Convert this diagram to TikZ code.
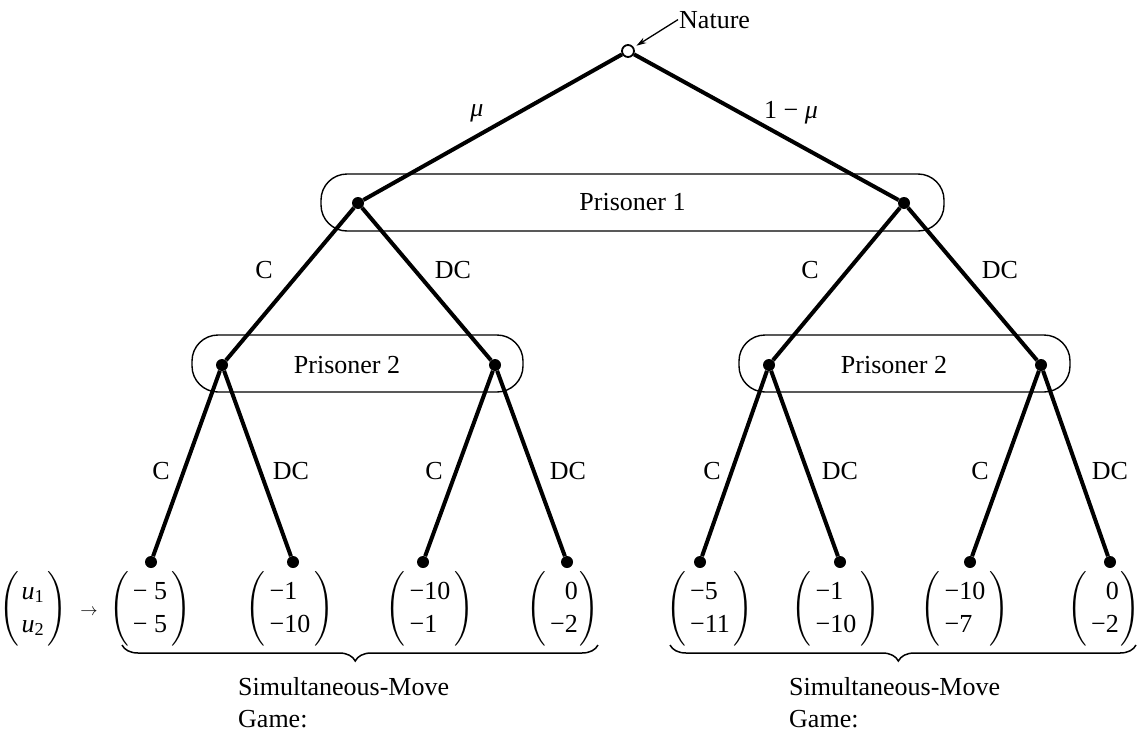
\documentclass[tikz,border=0pt]{standalone}
\usepackage{fontspec}
\setmainfont{Liberation Serif}
\usepackage{amsmath}
\usetikzlibrary{decorations.pathreplacing,arrows.meta}

\newcommand{\pvl}[2]{$\left(\begin{tabular}{@{\hspace{4pt}}l@{\hspace{4pt}}}#1\\#2\end{tabular}\right)$}
\newcommand{\pvr}[2]{$\left(\begin{tabular}{@{\hspace{4pt}}r@{\hspace{2pt}}}#1\\#2\end{tabular}\right)$}

\begin{document}
\begin{tikzpicture}[x=1pt,y=-1pt,
  every node/.style={font=\fontsize{26}{33}\selectfont, inner sep=0pt},
  tdot/.style={circle,fill=black,minimum size=12pt},
  chance/.style={circle,draw=black,fill=white,line width=1.8pt,minimum size=12pt},
  branch/.style={line width=4pt},
  pbox/.style={draw=black,line width=1.4pt,rounded corners=26pt},
  brc/.style={decorate,decoration={brace,amplitude=16pt,aspect=0.51},line width=1.5pt},
  natarrow/.style={line width=1.3pt,-{Stealth[length=10pt,width=6pt]}}
]
\useasboundingbox (0,0) rectangle (1139,736);

% Nature
\node[chance] (nat) at (628,51) {};
\node[anchor=base west, inner sep=1pt] (natlbl) at (678,28) {Nature};
\draw[natarrow, shorten >=3pt] (natlbl.west) -- (nat);

% Prisoner 1 information set
\node[pbox, minimum width=623pt, minimum height=57pt] (p1box) at (632.5,202.5) {Prisoner 1};
\node[tdot] (a) at (358,203) {};
\node[tdot] (b) at (904,203) {};

% Prisoner 2 information sets
\node[pbox, minimum width=331pt, minimum height=57pt] (p2lbox) at (357.5,363.5) {};
\node (p2l) at (347,365) {Prisoner 2};
\node[pbox, minimum width=331pt, minimum height=57pt] (p2rbox) at (904.5,363.5) {};
\node (p2r) at (894,365) {Prisoner 2};
\node[tdot] (aa) at (222,365) {};
\node[tdot] (ab) at (495,365) {};
\node[tdot] (ba) at (769,365) {};
\node[tdot] (bb) at (1041,365) {};

% leaves
\node[tdot] (l1) at (151,562) {};
\node[tdot] (l2) at (293,562) {};
\node[tdot] (l3) at (423,562) {};
\node[tdot] (l4) at (567,562) {};
\node[tdot] (l5) at (700,562) {};
\node[tdot] (l6) at (840,562) {};
\node[tdot] (l7) at (970,562) {};
\node[tdot] (l8) at (1110,562) {};

% branches
\draw[branch] (nat) -- (a);
\draw[branch] (nat) -- (b);
\draw[branch] (a) -- (aa);
\draw[branch] (a) -- (ab);
\draw[branch] (b) -- (ba);
\draw[branch] (b) -- (bb);
\draw[branch] (aa) -- (l1);
\draw[branch] (aa) -- (l2);
\draw[branch] (ab) -- (l3);
\draw[branch] (ab) -- (l4);
\draw[branch] (ba) -- (l5);
\draw[branch] (ba) -- (l6);
\draw[branch] (bb) -- (l7);
\draw[branch] (bb) -- (l8);

% branch labels
\node (mu) at (477,113) {\itshape μ};
\node (omu) at (791,113) {1 − {\itshape μ}};
\node (c1) at (264,270) {C};
\node (d1) at (453,270) {DC};
\node (c2) at (810,270) {C};
\node (d2) at (1000,270) {DC};
\node (c11) at (161,471) {C};
\node (d11) at (291,471) {DC};
\node (c12) at (434,471) {C};
\node (d12) at (568,471) {DC};
\node (c21) at (712,471) {C};
\node (d21) at (840,471) {DC};
\node (c22) at (980,471) {C};
\node (d22) at (1110,471) {DC};

% payoffs
\node (uu) at (33,609) {$\left(\begin{tabular}{@{\hspace{3pt}}l@{\hspace{3pt}}}{\itshape u}\textsubscript{1}\\{\itshape u}\textsubscript{2}\end{tabular}\right)$};
\node[font=\fontsize{16}{20}\selectfont] (uarr) at (89,612) {$\rightarrow$};
\node (v1) at (150,609) {\pvl{− 5}{− 5}};
\node (v2) at (290,609) {\pvl{−1}{−10}};
\node (v3) at (430,609) {\pvl{−10}{−1}};
\node (v4) at (563,609) {\pvr{0}{−2}};
\node (v5) at (710,609) {\pvl{−5}{−11}};
\node (v6) at (836,609) {\pvl{−1}{−10}};
\node (v7) at (965,609) {\pvl{−10}{−7}};
\node (v8) at (1104,609) {\pvr{0}{−2}};

% braces
\coordinate (bl1) at (122,645);
\coordinate (bl2) at (598,645);
\coordinate (br1) at (670,645);
\coordinate (br2) at (1136,645);
\draw[brc] (bl2) -- (bl1);
\draw[brc] (br2) -- (br1);

% captions
\node[anchor=base west] (sl1) at (238,695) {Simultaneous-Move};
\node[anchor=base west] (sl2) at (238,727) {Game:};
\node[anchor=base west] (sr1) at (789,695) {Simultaneous-Move};
\node[anchor=base west] (sr2) at (789,727) {Game:};
\end{tikzpicture}
\end{document}
